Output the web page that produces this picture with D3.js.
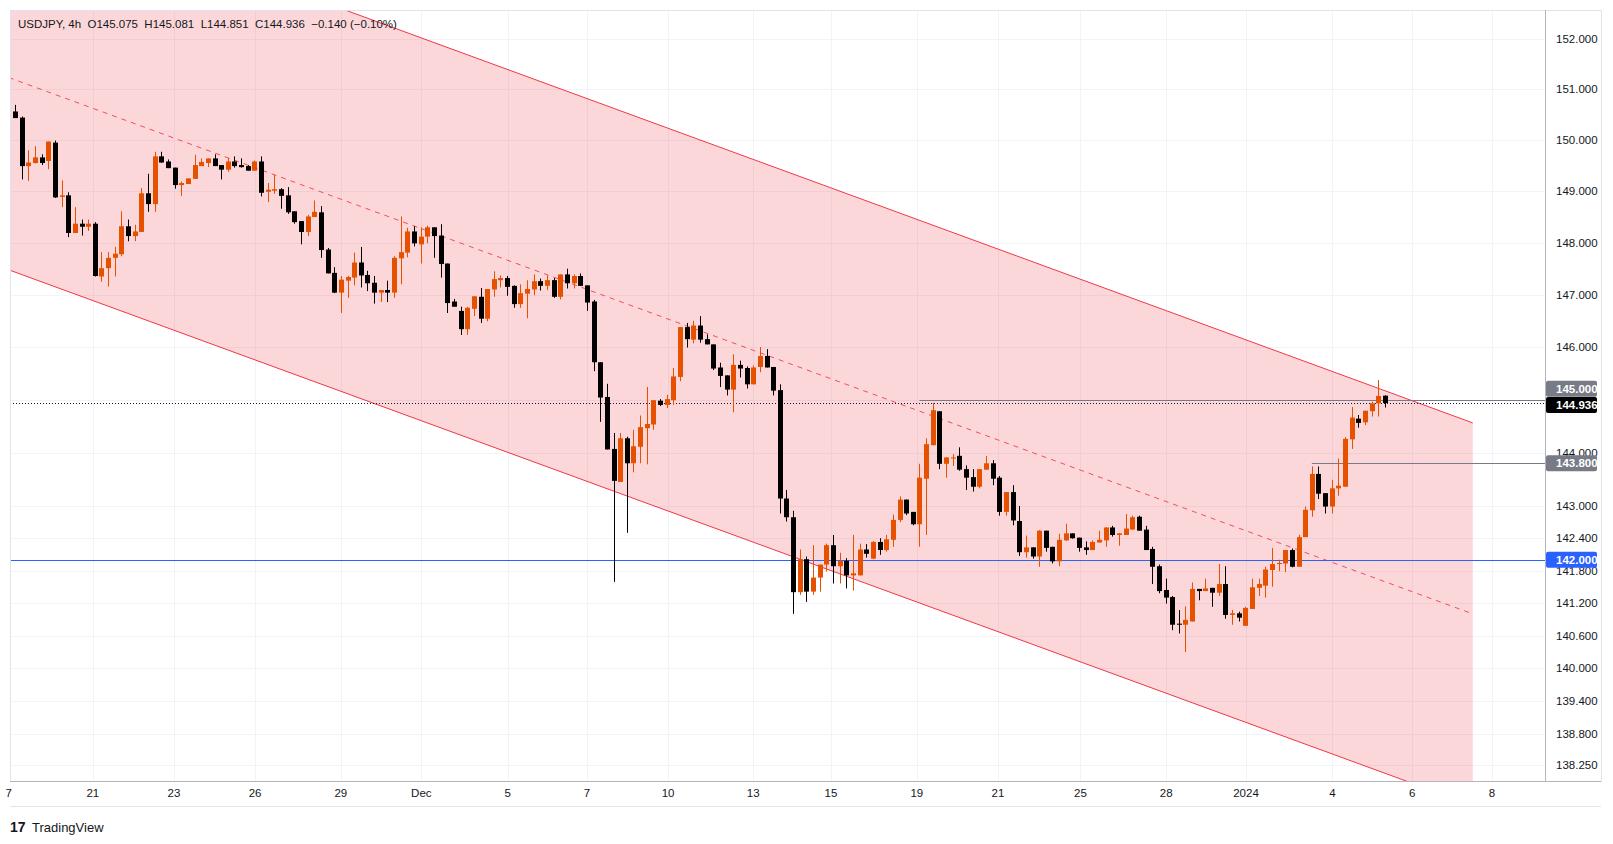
<!DOCTYPE html>
<html>
<head>
<meta charset="utf-8">
<script src="https://cdn.jsdelivr.net/npm/d3@7"></script>
<style>
  body { margin: 0; background: #fff; }
  svg { display: block; font-family: "Liberation Sans", Arial, sans-serif; }
</style>
</head>
<body>
<svg id="chart" width="1613" height="844"></svg>
<script>
// OHLC, 4h candles, USDJPY
const opens = [150.56,150.44,149.49,149.55,149.66,149.59,149.95,148.89,148.92,148.19,148.37,148.31,148.37,147.35,147.51,147.71,147.78,148.32,148.13,148.21,148.96,148.75,149.68,149.58,149.46,149.12,149.14,149.24,149.49,149.55,149.64,149.51,149.42,149.58,149.51,149.49,149.40,149.58,148.99,149.01,149.04,148.92,148.61,148.42,148.21,148.50,148.59,147.87,147.42,147.04,147.27,147.33,147.62,147.38,147.23,147.04,147.09,147.04,147.70,147.81,148.22,147.97,148.12,148.30,148.14,147.60,146.87,146.69,146.34,146.73,146.96,146.54,147.10,147.28,147.32,147.17,146.82,147.02,147.10,147.26,147.17,147.28,146.96,147.39,147.22,147.36,147.18,146.87,145.71,145.05,144.07,143.45,144.27,143.80,144.11,144.46,144.53,144.98,144.90,144.99,145.43,146.38,146.14,146.41,146.15,146.05,145.61,145.46,145.19,145.66,145.60,145.29,145.62,145.83,145.62,145.18,143.14,142.79,141.40,142.01,141.41,141.67,141.91,142.27,141.88,141.98,141.71,141.71,142.19,142.02,142.33,142.18,142.37,142.74,143.12,142.89,142.66,143.51,144.14,144.78,143.79,143.89,143.94,143.69,143.54,143.36,143.68,143.80,143.53,142.89,143.26,142.72,142.14,142.23,142.06,142.54,142.24,141.97,142.36,142.49,142.41,142.23,142.18,142.32,142.36,142.60,142.46,142.46,142.56,142.80,142.56,142.20,141.88,141.44,141.31,140.82,140.80,140.86,141.46,141.42,141.48,141.39,141.55,140.98,141.01,140.78,141.09,141.48,141.52,141.81,141.92,141.93,142.18,141.87,142.42,142.92,143.60,143.24,142.99,143.33,143.36,144.25,144.64,144.57,144.78,144.93,145.075];
const highs = [150.69,150.46,149.80,149.88,149.72,149.97,149.99,149.21,148.98,148.69,148.45,148.45,148.40,147.82,147.82,147.92,148.61,148.45,148.35,149.06,149.34,149.77,149.77,149.62,149.46,149.19,149.25,149.71,149.64,149.64,149.72,149.51,149.65,149.68,149.64,149.51,149.60,149.68,149.16,149.32,149.06,149.08,148.61,148.42,148.54,148.82,148.71,147.90,147.53,147.36,147.36,147.81,147.92,147.46,147.36,147.09,147.27,147.74,148.51,148.29,148.32,148.30,148.33,148.30,148.36,147.60,146.92,146.77,146.77,146.97,147.13,147.11,147.45,147.37,147.36,147.18,147.20,147.28,147.39,147.31,147.37,147.32,147.39,147.50,147.39,147.41,147.18,146.90,145.71,145.30,144.37,144.37,144.30,144.43,144.70,145.24,144.99,145.01,145.09,145.60,146.38,146.46,146.50,146.59,146.24,146.05,145.70,145.46,145.86,145.74,145.63,145.65,146.00,145.96,145.62,145.29,143.30,142.91,142.19,142.06,142.27,141.91,142.30,142.46,142.13,142.03,142.46,142.30,142.29,142.35,142.40,142.46,142.84,143.18,143.12,142.89,143.79,144.27,144.94,144.78,143.91,143.97,144.10,143.76,143.69,143.69,143.94,143.86,143.56,143.26,143.39,143.00,142.45,142.23,142.55,142.54,142.24,142.48,142.67,142.49,142.41,142.34,142.36,142.54,142.60,142.63,142.49,142.85,142.82,142.82,142.63,142.24,141.91,141.65,141.33,141.07,141.14,141.58,141.46,141.65,141.48,141.92,141.88,141.07,141.04,141.13,141.65,141.65,141.87,142.22,142.00,142.18,142.21,142.46,142.99,143.74,143.74,143.24,143.49,143.89,144.29,144.86,144.71,144.79,144.96,145.37,145.081];
const lows = [150.43,149.23,149.20,149.54,149.51,149.43,148.87,148.69,148.11,148.19,148.14,148.23,147.35,147.25,147.16,147.35,147.74,148.03,148.03,148.21,148.60,148.60,149.55,149.45,149.05,148.91,149.14,149.24,149.49,149.47,149.49,149.23,149.38,149.46,149.46,149.40,149.40,148.90,148.79,148.95,148.66,148.56,148.37,147.97,148.13,148.50,147.71,147.41,147.03,146.65,146.94,147.18,147.14,147.07,146.83,146.86,146.86,146.94,147.20,147.72,147.93,147.60,147.99,147.71,147.33,146.65,146.77,146.23,146.23,146.59,146.46,146.49,146.96,147.14,146.98,146.75,146.75,146.55,146.99,147.08,147.09,146.94,146.91,147.12,147.12,147.17,146.69,145.54,144.58,144.06,141.59,143.45,142.50,143.63,143.80,143.78,144.43,144.88,144.84,144.90,145.35,145.99,146.07,146.08,146.05,145.56,145.24,145.08,144.76,145.42,145.21,145.29,145.52,145.61,145.08,142.86,142.71,141.00,141.35,141.22,141.35,141.41,141.78,141.56,141.56,141.47,141.43,141.71,142.04,142.01,142.09,142.15,142.24,142.70,142.83,142.64,142.24,142.46,144.14,143.69,143.53,143.75,143.66,143.30,143.27,143.33,143.68,143.39,142.82,142.82,142.64,142.07,142.04,142.02,141.87,142.15,141.93,141.88,142.35,142.39,142.15,142.09,142.18,142.32,142.24,142.43,142.26,142.46,142.56,142.54,142.18,141.55,141.38,141.19,140.70,140.64,140.30,140.86,141.25,141.42,141.13,141.33,140.91,140.80,140.86,140.78,141.09,141.33,141.30,141.50,141.79,141.77,141.86,141.87,142.42,142.80,143.13,142.86,142.86,143.19,143.36,144.07,144.47,144.52,144.68,144.68,144.851];
const closes = [150.43,149.49,149.56,149.66,149.55,149.97,148.88,148.92,148.19,148.37,148.31,148.37,147.36,147.51,147.71,147.79,148.32,148.13,148.22,148.96,148.75,149.68,149.56,149.45,149.12,149.16,149.25,149.51,149.57,149.64,149.49,149.42,149.58,149.49,149.47,149.40,149.58,148.97,149.03,149.04,148.91,148.59,148.40,148.21,148.51,148.60,147.86,147.41,147.04,147.29,147.34,147.62,147.37,147.22,147.04,147.09,147.04,147.71,147.82,148.22,147.99,148.12,148.30,148.13,147.59,146.84,146.77,146.34,146.75,146.97,146.54,147.11,147.30,147.32,147.15,146.82,147.03,147.11,147.26,147.17,147.28,146.96,147.39,147.22,147.36,147.17,146.85,145.71,145.04,144.06,143.47,144.27,143.80,144.12,144.48,144.54,144.99,144.90,145.01,145.44,146.38,146.15,146.41,146.14,146.05,145.59,145.45,145.19,145.66,145.59,145.29,145.61,145.83,145.61,145.17,143.14,142.79,141.40,142.01,141.41,141.67,141.91,142.27,141.88,141.98,141.71,141.75,142.19,142.11,142.33,142.18,142.38,142.74,143.12,142.86,142.66,143.53,144.16,144.80,143.79,143.91,143.91,143.68,143.53,143.36,143.69,143.80,143.51,142.89,143.26,142.73,142.14,142.23,142.06,142.54,142.22,141.97,142.37,142.49,142.40,142.22,142.18,142.33,142.37,142.60,142.46,142.49,142.58,142.79,142.54,142.18,141.87,141.42,141.30,140.80,140.80,140.89,141.46,141.42,141.47,141.39,141.55,140.98,141.01,140.93,141.11,141.49,141.55,141.82,141.92,141.94,142.18,141.87,142.42,142.93,143.60,143.23,142.99,143.33,143.38,144.26,144.66,144.56,144.79,144.93,145.07,144.936];

// 145 is covered by its level tag in the reference, so it is left out of the axis labels
const priceTicks = [152, 151, 150, 149, 148, 147, 146, 144, 143, 142.4, 141.8, 141.2, 140.6, 140, 139.4, 138.8, 138.25];
const dateLabels = ["7", "21", "23", "26", "29", "Dec", "5", "7", "10", "13", "15", "19", "21", "25", "28", "2024", "4", "6", "8"];
const dateIndex = [-1.2, 11.7, 23.9, 36.1, 49.0, 61.1, 74.1, 86.0, 98.2, 111, 122.7, 135.6, 147.8, 160.2, 173.1, 185.1, 198.1, 210.1, 222.1];

// channel: [candle index, price]
const channelUpper = [[49.6, 152.57], [219.2, 144.56]];
const channelLower = [[-0.75, 147.47], [208.4, 137.99]];
const channelMid = [[-0.75, 151.22], [219.2, 141.0]];
const channelEnd = 219.2;

const levels = [145.0, 143.8];
const levelStart = [136, 195];
const supportLevel = 142.0;
const lastPrice = 144.936;

const plot = { left: 10, top: 10, right: 1545, bottom: 781 };

const svg = d3.select("#chart");
const x = d3.scaleLinear().domain([0, 206]).range([15, 1385]);
const y = d3.scaleLog().domain([146, 143]).range([347, 506]);

svg.append("defs").append("clipPath").attr("id", "clip")
    .append("rect")
    .attr("x", plot.left).attr("y", plot.top)
    .attr("width", plot.right - plot.left).attr("height", plot.bottom - plot.top);

// grid
const grid = svg.append("g").attr("stroke", "#f0f3fa").attr("stroke-width", 1);
priceTicks.concat([145]).forEach(p => {
    grid.append("line").attr("x1", plot.left).attr("x2", plot.right)
        .attr("y1", Math.round(y(p)) + 0.5).attr("y2", Math.round(y(p)) + 0.5);
});
dateIndex.forEach(i => {
    const px = Math.round(x(i)) + 0.5;
    if (px < plot.left) return;
    grid.append("line").attr("x1", px).attr("x2", px).attr("y1", plot.top).attr("y2", plot.bottom);
});

// channel lines in pixel space
function linePx(pts) {
    const [a, b] = pts.map(d => [x(d[0]), y(d[1])]);
    const k = (b[1] - a[1]) / (b[0] - a[0]);
    return px => a[1] + k * (px - a[0]);
}
const up = linePx(channelUpper), lo = linePx(channelLower), mid = linePx(channelMid);
const xs = plot.left - 20, xe = x(channelEnd);

const ch = svg.append("g").attr("clip-path", "url(#clip)");
ch.append("path")
    .attr("d", `M${xs},${up(xs)}L${xe},${up(xe)}L${xe},${lo(xe)}L${xs},${lo(xs)}Z`)
    .attr("fill", "rgba(242,54,69,0.2)");
ch.append("line").attr("x1", xs).attr("y1", up(xs)).attr("x2", xe).attr("y2", up(xe))
    .attr("stroke", "#f23645").attr("stroke-width", 1);
ch.append("line").attr("x1", xs).attr("y1", lo(xs)).attr("x2", xe).attr("y2", lo(xe))
    .attr("stroke", "#f23645").attr("stroke-width", 1);
ch.append("line").attr("x1", xs).attr("y1", mid(xs)).attr("x2", xe).attr("y2", mid(xe))
    .attr("stroke", "#f23645").attr("stroke-width", 1).attr("stroke-dasharray", "5,5").attr("opacity", 0.85);

// horizontal levels
levels.forEach((lv, i) => {
    ch.append("line").attr("x1", x(levelStart[i])).attr("x2", plot.right)
        .attr("y1", Math.round(y(lv)) + 0.5).attr("y2", Math.round(y(lv)) + 0.5)
        .attr("stroke", "#787b86").attr("stroke-width", 1);
});
ch.append("line").attr("x1", plot.left).attr("x2", plot.right)
    .attr("y1", Math.round(y(supportLevel)) + 0.5).attr("y2", Math.round(y(supportLevel)) + 0.5)
    .attr("stroke", "#2962ff").attr("stroke-width", 1);
ch.append("line").attr("x1", plot.left).attr("x2", plot.right)
    .attr("y1", Math.round(y(lastPrice)) + 0.5).attr("y2", Math.round(y(lastPrice)) + 0.5)
    .attr("stroke", "#131722").attr("stroke-width", 1).attr("stroke-dasharray", "1,2");

// candles
const candles = d3.range(opens.length).map(i => ({ i, o: opens[i], h: highs[i], l: lows[i], c: closes[i] }));
const cg = ch.append("g");
const color = d => d.c >= d.o ? "#e65100" : "#000000";
cg.selectAll(".wick").data(candles).enter().append("line")
    .attr("x1", d => Math.round(x(d.i)) + 0.5).attr("x2", d => Math.round(x(d.i)) + 0.5)
    .attr("y1", d => y(d.h)).attr("y2", d => y(d.l))
    .attr("stroke", color).attr("stroke-width", 1);
cg.selectAll(".body").data(candles).enter().append("rect")
    .attr("x", d => Math.round(x(d.i)) - 2)
    .attr("width", 5)
    .attr("y", d => y(Math.max(d.o, d.c)))
    .attr("height", d => Math.max(1, y(Math.min(d.o, d.c)) - y(Math.max(d.o, d.c))))
    .attr("fill", color);

// frame
svg.append("rect").attr("x", plot.left + 0.5).attr("y", plot.top + 0.5)
    .attr("width", 1601 - plot.left).attr("height", plot.bottom - plot.top)
    .attr("fill", "none").attr("stroke", "#e0e3eb");
svg.append("line").attr("x1", plot.right + 0.5).attr("x2", plot.right + 0.5)
    .attr("y1", plot.top).attr("y2", plot.bottom).attr("stroke", "#b2b5be");
svg.append("line").attr("x1", plot.left).attr("x2", 1601)
    .attr("y1", plot.bottom + 0.5).attr("y2", plot.bottom + 0.5).attr("stroke", "#b2b5be");
svg.append("line").attr("x1", plot.left).attr("x2", 1601)
    .attr("y1", 806.5).attr("y2", 806.5).attr("stroke", "#e0e3eb");

// price axis labels
svg.append("g").selectAll("text").data(priceTicks).enter().append("text")
    .attr("x", 1556).attr("y", d => y(d) + 4)
    .attr("font-size", 11.5).attr("fill", "#131722")
    .text(d => d3.format(".3f")(d));

function priceTag(p, fill, dy) {
    const g = svg.append("g");
    g.append("rect").attr("x", 1546).attr("y", y(p) - 8 + dy).attr("width", 51).attr("height", 16)
        .attr("rx", 2).attr("fill", fill);
    g.append("text").attr("x", 1556).attr("y", y(p) + 4 + dy)
        .attr("font-size", 11.5).attr("font-weight", "bold").attr("fill", "#fff")
        .text(d3.format(".3f")(p));
}
priceTag(levels[0], "#787b86", -11);
priceTag(lastPrice, "#000000", 2);
priceTag(levels[1], "#787b86", 0);
priceTag(supportLevel, "#2962ff", 0);

// date axis labels
svg.append("g").selectAll("text").data(dateLabels).enter().append("text")
    .attr("x", (d, i) => Math.max(x(dateIndex[i]), 12))
    .attr("y", 797)
    .attr("text-anchor", (d, i) => i === 0 ? "end" : "middle")
    .attr("font-size", 11.5).attr("fill", "#131722")
    .text(d => d);

// header
svg.append("text").attr("x", 18).attr("y", 28)
    .attr("font-size", 11.5).attr("fill", "#131722")
    .attr("xml:space", "preserve")
    .text("USDJPY, 4h  O145.075  H145.081  L144.851  C144.936  \u22120.140 (\u22120.10%)");

// logo
svg.append("text").attr("x", 10).attr("y", 832)
    .attr("font-size", 14).attr("font-weight", "900").attr("fill", "#131722").text("17");
svg.append("text").attr("x", 32).attr("y", 832)
    .attr("font-size", 13).attr("fill", "#131722").text("TradingView");
</script>
</body>
</html>
